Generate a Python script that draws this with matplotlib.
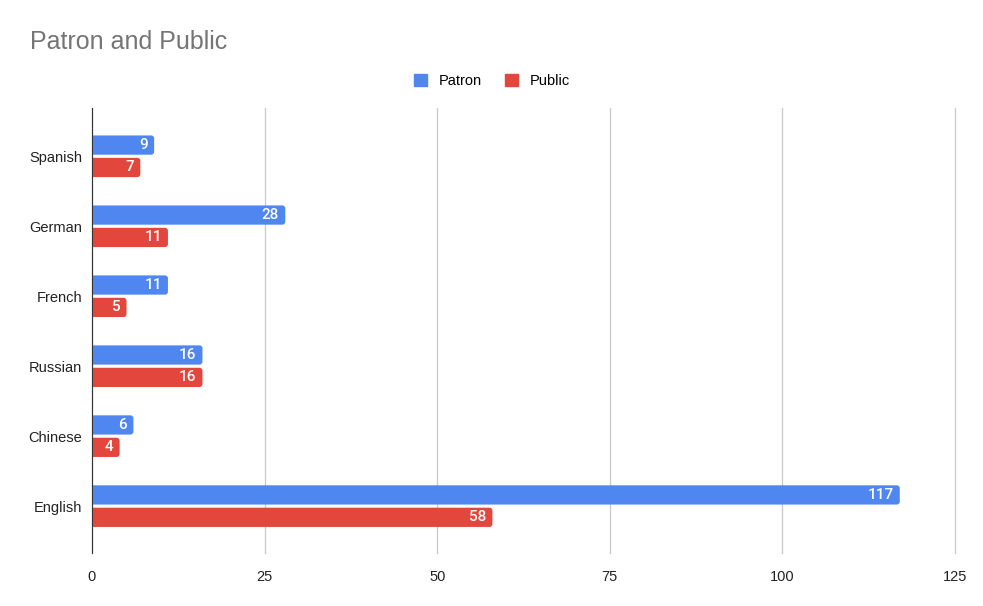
import matplotlib
matplotlib.use("Agg")
import matplotlib.pyplot as plt
import numpy as np
from matplotlib.patches import Patch, FancyBboxPatch

languages = ["English", "Chinese", "Russian", "French", "German", "Spanish"]
patron = [117, 6, 16, 11, 28, 9]
public = [58, 4, 16, 5, 11, 7]
x_ticks = [0, 25, 50, 75, 100, 125]

blue = "#4f86ef"
red = "#e3463d"

plt.rcParams["font.family"] = ["Liberation Sans", "DejaVu Sans"]

fig = plt.figure(figsize=(9.83, 6.06), dpi=100)
ax = fig.add_axes([92 / 983, 1 - 553 / 606, 863 / 983, 445 / 606])

y = np.arange(len(languages))
h = 0.275
off = 0.16
# pixels per data unit, used to keep corner rounding circular
px_x = 863 / 125
px_y = 445 / 6.321
r = 3.0 / px_x
aspect = (3.0 / px_y) / r

for vals, dy, col in ((patron, off, blue), (public, -off, red)):
    for yi, v in zip(y, vals):
        box = FancyBboxPatch((-2, yi + dy - h / 2), v + 2, h,
                             boxstyle=f"round,pad=0,rounding_size={r}",
                             mutation_aspect=aspect, facecolor=col,
                             edgecolor="none", zorder=3)
        ax.add_patch(box)
        ax.text(v - 0.9, yi + dy, str(v), ha="right", va="center",
                color="white", fontsize=11, fontweight="medium",
                family=["Roboto", "DejaVu Sans"], zorder=4)

ax.set_xlim(0, 125)
ax.set_ylim(-0.67, 5.69)
ax.set_xticks(x_ticks)
ax.set_yticks(y)
ax.set_yticklabels(languages)
ax.tick_params(axis="both", length=0, labelsize=10.5, colors="#222222")
ax.tick_params(axis="x", pad=12)
ax.tick_params(axis="y", pad=7)

ax.grid(axis="x", color="#cccccc", linewidth=1, zorder=0)
for gl in ax.get_xgridlines():
    gl.set_clip_on(False)
for s in ("top", "right", "bottom"):
    ax.spines[s].set_visible(False)
ax.spines["left"].set_color("#333333")
ax.spines["left"].set_zorder(5)

fig.text(30 / 983, 1 - 42 / 606, "Patron and Public", fontsize=18,
         color="#757575", va="center", ha="left")

handles = [Patch(color=blue, label="Patron"), Patch(color=red, label="Public")]
fig.legend(handles=handles, loc="center", bbox_to_anchor=(492 / 983, 1 - 81 / 606),
           ncol=2, frameon=False, fontsize=10.5, handlelength=0.9,
           handleheight=0.9, handletextpad=0.8, columnspacing=1.6)

fig.savefig("out.png", dpi=100, facecolor="white")
